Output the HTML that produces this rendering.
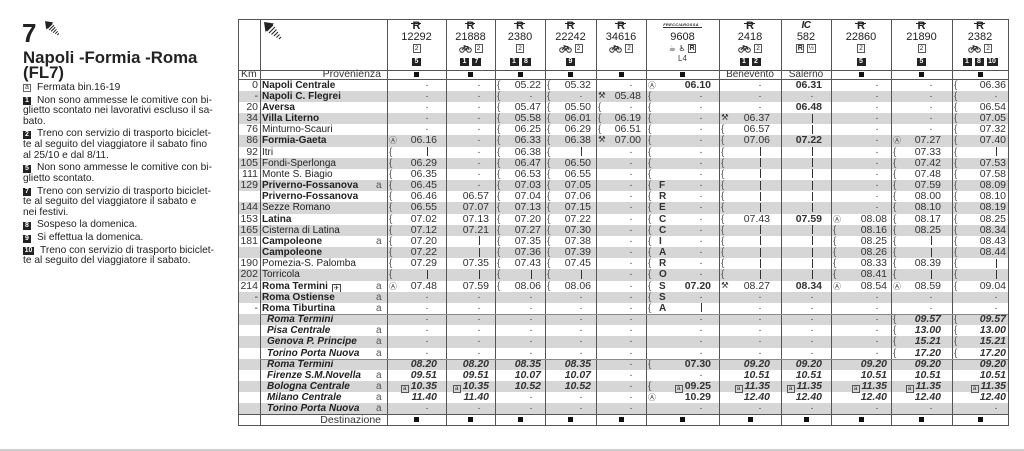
<!DOCTYPE html>
<html><head><meta charset="utf-8">
<style>
*{margin:0;padding:0}
body{width:1024px;height:451px;overflow:hidden;background:#fff;font-family:"Liberation Sans",Arial,sans-serif;color:#2b2b2b;position:relative}
.ab{position:absolute}
i{font-style:normal}
#t{position:absolute;left:238px;top:79.5px;width:770px}
.r{position:relative;height:11.18px;line-height:11.18px;font-size:10.5px;color:#333;white-space:nowrap}
.r:nth-child(even){background:#d6d6d6}
.r>span,.kr>span{position:absolute;top:0;box-sizing:border-box;height:100%}
.km{left:0;width:20px;text-align:right}
.st{left:24px;font-size:10px;color:#222}
.st.b{font-weight:bold}
.a{left:138px;font-size:10px;color:#555;font-style:normal;font-weight:normal}
.c1,.c2,.c3,.c4,.c5,.c6,.c7,.c8,.c9,.c10,.c11{text-align:right}
.c1{left:149px;width:59px;padding-right:9px}
.c2{left:208px;width:49px;padding-right:6px}
.c3{left:257px;width:50px;padding-right:4px}
.c4{left:307px;width:51px;padding-right:5px}
.c5{left:358px;width:50px;padding-right:5px}
.c6{left:408px;width:73px;padding-right:8px}
.c7{left:481px;width:62px;padding-right:11px}
.c8{left:543px;width:50px;padding-right:9px}
.c9{left:593px;width:60px;padding-right:4px}
.c10{left:653px;width:61px;padding-right:11px}
.c11{left:714px;width:56px;padding-right:2px}
.kr>span{text-align:center!important;padding:0!important}
.d{display:inline-block;width:20px;text-align:center;font-weight:normal;font-style:normal}
.v{display:inline-block;width:20px;height:9px;vertical-align:-1.5px;background:linear-gradient(#333,#333) no-repeat 50% 0/1px 100%}
.w{position:absolute;left:2px;top:0;font-size:10px;color:#555;font-weight:normal;font-style:normal}
.o{position:absolute;left:2px;top:0;font-family:"DejaVu Sans",sans-serif;font-size:8px;color:#444;font-weight:normal;font-style:normal}
.x{position:absolute;left:2px;top:0;font-family:"DejaVu Sans",sans-serif;font-size:8.5px;color:#333;font-weight:normal;font-style:normal}
.fl{position:absolute;left:13px;top:0;font-weight:bold;font-size:10px;color:#333;font-style:normal}
.it{font-style:italic;font-weight:bold}
.it .st{left:29px;font-weight:bold;font-style:italic}
.it .km{font-style:normal;font-weight:normal}
.it .c6{font-style:normal}
.bx{display:inline-block;width:8px;height:8px;border:1px solid #555;box-sizing:border-box;font-size:6.5px;line-height:6.5px;text-align:center;font-style:normal;font-weight:normal;margin-right:2px;vertical-align:-0.5px}
.pl{display:inline-block;width:9px;height:9px;border:1px solid #444;box-sizing:border-box;font-family:"DejaVu Sans",sans-serif;font-size:6.5px;line-height:7px;text-align:center;margin-left:4px;vertical-align:-1px;font-weight:normal}
.sq{display:inline-block;width:5px;height:5px;background:#111;vertical-align:middle}
.vl{position:absolute;top:19px;height:406.5px;width:1px;background:#555}
.hl{position:absolute;left:238px;width:771px;height:1px;background:#555}
.hc{position:absolute;top:19px;height:51px;text-align:center;color:#222}
.hc>div{position:absolute;left:0;right:0;white-space:nowrap}
.h1{top:2px;line-height:10px;font-size:10px}
.h2{top:13px;line-height:11px;font-size:11px}
.h3{top:25px;line-height:9px;font-size:9px}
.h4{top:38px;line-height:9px;font-size:9px}
.ri{position:relative;font-weight:bold;font-size:11px;display:inline-block;line-height:10px}
.ri::before{content:"";position:absolute;left:-2px;right:-1px;top:2px;height:1.3px;background:#222}
.k2{display:inline-block;border:1px solid #555;font-size:6.5px;line-height:7px;width:8px;height:9px;box-sizing:border-box;text-align:center;vertical-align:middle}
.fb{display:inline-block;width:9px;height:8px;background:#222;color:#fff;font-size:7px;font-weight:bold;line-height:8px;text-align:center;margin:0 1.5px;vertical-align:middle}
.bk{vertical-align:middle;margin-right:3px}
.nl{position:absolute;left:23px;height:10.6px;line-height:10.6px;font-size:10.2px;color:#222;white-space:nowrap}
.nl.f{padding-left:14px}
.nb{position:absolute;left:0;top:1.5px;width:8px;height:8px;background:#222;color:#fff;font-size:7px;font-weight:bold;line-height:8px;text-align:center}
.nb.wa{background:#fff;color:#333;border:1px solid #666;box-sizing:border-box;line-height:6px;font-weight:normal}
</style></head><body>

<!-- left panel -->
<div class="ab" style="left:22px;top:19.7px;font-size:26px;line-height:26px;font-weight:bold;color:#222">7</div>
<svg class="ab" style="left:45px;top:21px" width="18" height="15" viewBox="0 0 22 18"><polygon points="0,0 10,1.5 1.5,10" fill="#222"/><g stroke="#222" stroke-width="1.2"><line x1="3" y1="9" x2="9" y2="3"/><line x1="5" y1="11" x2="11" y2="5"/><line x1="7.5" y1="12.5" x2="12.5" y2="7.5"/><line x1="10" y1="14" x2="14" y2="10"/><line x1="12.5" y1="15.5" x2="15.5" y2="12.5"/><line x1="15" y1="17" x2="17" y2="15"/></g></svg>
<div class="ab" style="left:23px;top:49.2px;font-size:16.8px;line-height:17px;font-weight:bold;color:#222;white-space:nowrap">Napoli -Formia -Roma</div>
<div class="ab" style="left:23px;top:64.2px;font-size:16.8px;line-height:17px;font-weight:bold;color:#222">(FL7)</div>

<div class="nl f" style="top:82.8px"><i class="nb wa">a</i>Fermata bin.16-19</div>
<div class="nl f" style="top:95.5px"><i class="nb">1</i>Non sono ammesse le comitive con bi-</div>
<div class="nl" style="top:106.1px">glietto scontato nei lavorativi escluso il sa-</div>
<div class="nl" style="top:116.7px">bato.</div>
<div class="nl f" style="top:129.4px"><i class="nb">2</i>Treno con servizio di trasporto biciclet-</div>
<div class="nl" style="top:140px">te al seguito del viaggiatore il sabato fino</div>
<div class="nl" style="top:150.6px">al 25/10 e dal 8/11.</div>
<div class="nl f" style="top:163.3px"><i class="nb">5</i>Non sono ammesse le comitive con bi-</div>
<div class="nl" style="top:173.9px">glietto scontato.</div>
<div class="nl f" style="top:186.5px"><i class="nb">7</i>Treno con servizio di trasporto biciclet-</div>
<div class="nl" style="top:197.1px">te al seguito del viaggiatore il sabato e</div>
<div class="nl" style="top:207.7px">nei festivi.</div>
<div class="nl f" style="top:220.4px"><i class="nb">8</i>Sospeso la domenica.</div>
<div class="nl f" style="top:233px"><i class="nb">9</i>Si effettua la domenica.</div>
<div class="nl f" style="top:245.7px;padding-left:17px"><i class="nb" style="width:11px">10</i>Treno con servizio di trasporto biciclet-</div>
<div class="nl" style="top:256.3px">te al seguito del viaggiatore il sabato.</div>

<!-- header -->
<svg class="ab" style="left:264px;top:22px" width="22" height="18" viewBox="0 0 22 18"><polygon points="0,0 10,1.5 1.5,10" fill="#222"/><g stroke="#222" stroke-width="1.1"><line x1="3" y1="9" x2="9" y2="3"/><line x1="5" y1="11" x2="11" y2="5"/><line x1="7.5" y1="12.5" x2="12.5" y2="7.5"/><line x1="10" y1="14" x2="14" y2="10"/><line x1="12.5" y1="15.5" x2="15.5" y2="12.5"/><line x1="15" y1="17" x2="17" y2="15"/></g></svg>

<div class="hc" style="left:387px;width:59px"><div class="h1"><span class="ri">R</span></div><div class="h2">12292</div><div class="h3"><span class="k2">2</span></div><div class="h4"><span class="fb">5</span></div></div>
<div class="hc" style="left:446px;width:49px"><div class="h1"><span class="ri">R</span></div><div class="h2">21888</div><div class="h3"><svg class="bk" width="13" height="8" viewBox="0 0 13 8"><circle cx="3" cy="5" r="2.3" fill="none" stroke="#333"/><circle cx="10" cy="5" r="2.3" fill="none" stroke="#333"/><path d="M3 5L5.5 1.5H9L10 5M5.5 1.5L6.5 5L9 1.5M4.5 .7H6.7" fill="none" stroke="#333"/></svg><span class="k2">2</span></div><div class="h4"><span class="fb">1</span><span class="fb">7</span></div></div>
<div class="hc" style="left:495px;width:50px"><div class="h1"><span class="ri">R</span></div><div class="h2">2380</div><div class="h3"><span class="k2">2</span></div><div class="h4"><span class="fb">1</span><span class="fb">8</span></div></div>
<div class="hc" style="left:545px;width:51px"><div class="h1"><span class="ri">R</span></div><div class="h2">22242</div><div class="h3"><svg class="bk" width="13" height="8" viewBox="0 0 13 8"><circle cx="3" cy="5" r="2.3" fill="none" stroke="#333"/><circle cx="10" cy="5" r="2.3" fill="none" stroke="#333"/><path d="M3 5L5.5 1.5H9L10 5M5.5 1.5L6.5 5L9 1.5M4.5 .7H6.7" fill="none" stroke="#333"/></svg><span class="k2">2</span></div><div class="h4"><span class="fb">9</span></div></div>
<div class="hc" style="left:596px;width:50px"><div class="h1"><span class="ri">R</span></div><div class="h2">34616</div><div class="h3"><svg class="bk" width="13" height="8" viewBox="0 0 13 8"><circle cx="3" cy="5" r="2.3" fill="none" stroke="#333"/><circle cx="10" cy="5" r="2.3" fill="none" stroke="#333"/><path d="M3 5L5.5 1.5H9L10 5M5.5 1.5L6.5 5L9 1.5M4.5 .7H6.7" fill="none" stroke="#333"/></svg><span class="k2">2</span></div></div>
<div class="hc" style="left:646px;width:73px"><div class="h1" style="top:0"><span style="display:inline-block;font-size:4px;line-height:5px;font-style:italic;font-weight:bold;border-bottom:1.3px solid #333;padding:0 3px 0 0;letter-spacing:.3px">FRECCIAROSSA</span></div><div class="h2">9608</div><div class="h3"><span style="font-family:'DejaVu Sans',sans-serif;font-size:8px">☕ ♿</span> <span class="k2" style="font-weight:bold;font-size:7px">R</span></div><div class="h4" style="top:35px;font-size:8px;color:#444">L4</div></div>
<div class="hc" style="left:719px;width:62px"><div class="h1"><span class="ri">R</span></div><div class="h2">2418</div><div class="h3"><svg class="bk" width="13" height="8" viewBox="0 0 13 8"><circle cx="3" cy="5" r="2.3" fill="none" stroke="#333"/><circle cx="10" cy="5" r="2.3" fill="none" stroke="#333"/><path d="M3 5L5.5 1.5H9L10 5M5.5 1.5L6.5 5L9 1.5M4.5 .7H6.7" fill="none" stroke="#333"/></svg><span class="k2">2</span></div><div class="h4"><span class="fb">1</span><span class="fb">2</span></div></div>
<div class="hc" style="left:781px;width:50px"><div class="h1"><b style="font-style:italic;font-size:10px;letter-spacing:-.5px">IC</b></div><div class="h2">582</div><div class="h3"><span class="k2" style="font-weight:bold;font-size:7px">R</span> <span class="k2" style="width:9px">½</span></div></div>
<div class="hc" style="left:831px;width:60px"><div class="h1"><span class="ri">R</span></div><div class="h2">22860</div><div class="h3"><span class="k2">2</span></div><div class="h4"><span class="fb">5</span></div></div>
<div class="hc" style="left:891px;width:61px"><div class="h1"><span class="ri">R</span></div><div class="h2">21890</div><div class="h3"><span class="k2">2</span></div><div class="h4"><span class="fb">5</span></div></div>
<div class="hc" style="left:952px;width:56px"><div class="h1"><span class="ri">R</span></div><div class="h2">2382</div><div class="h3"><svg class="bk" width="13" height="8" viewBox="0 0 13 8"><circle cx="3" cy="5" r="2.3" fill="none" stroke="#333"/><circle cx="10" cy="5" r="2.3" fill="none" stroke="#333"/><path d="M3 5L5.5 1.5H9L10 5M5.5 1.5L6.5 5L9 1.5M4.5 .7H6.7" fill="none" stroke="#333"/></svg><span class="k2">2</span></div><div class="h4"><span class="fb">1</span><span class="fb">8</span><span class="fb" style="width:11px">10</span></div></div>

<!-- Km row -->
<div class="ab kr" style="left:238px;top:70px;width:770px;height:9.5px;line-height:9.5px;font-size:10.5px;color:#333">
<span style="left:3px">Km</span><span style="left:22px;width:121px;text-align:right!important">Provenienza</span>
<span class="c1"><i class="sq"></i></span><span class="c2"><i class="sq"></i></span><span class="c3"><i class="sq"></i></span><span class="c4"><i class="sq"></i></span><span class="c5"><i class="sq"></i></span><span class="c6"><i class="sq"></i></span><span class="c7" style="font-size:10px">Benevento</span><span class="c8" style="font-size:10px">Salerno</span><span class="c9"><i class="sq"></i></span><span class="c10"><i class="sq"></i></span><span class="c11"><i class="sq"></i></span>
</div>

<!-- rows -->
<div id="t">
<div class="r"><span class="km">0</span><span class="st b">Napoli Centrale</span><span class="c1"><i class="d">·</i></span><span class="c2"><i class="d">·</i></span><span class="c3"><i class="w">{</i>05.22</span><span class="c4"><i class="w">{</i>05.32</span><span class="c5"><i class="d">·</i></span><span class="c6"><i class="o">Ⓐ</i><b>06.10</b></span><span class="c7"><i class="d">·</i></span><span class="c8"><b>06.31</b></span><span class="c9"><i class="d">·</i></span><span class="c10"><i class="d">·</i></span><span class="c11"><i class="w">{</i>06.36</span></div>
<div class="r"><span class="km">-</span><span class="st b">Napoli C. Flegrei</span><span class="c1"><i class="d">·</i></span><span class="c2"><i class="d">·</i></span><span class="c3"><i class="w">{</i><i class="d">·</i></span><span class="c4"><i class="w">{</i><i class="d">·</i></span><span class="c5"><i class="x">⚒</i>05.48</span><span class="c6"><i class="w">{</i><i class="d">·</i></span><span class="c7"><i class="d">·</i></span><span class="c8"><i class="d">·</i></span><span class="c9"><i class="d">·</i></span><span class="c10"><i class="d">·</i></span><span class="c11"><i class="w">{</i><i class="d">·</i></span></div>
<div class="r"><span class="km">20</span><span class="st b">Aversa</span><span class="c1"><i class="d">·</i></span><span class="c2"><i class="d">·</i></span><span class="c3"><i class="w">{</i>05.47</span><span class="c4"><i class="w">{</i>05.50</span><span class="c5"><i class="w">{</i><i class="d">·</i></span><span class="c6"><i class="w">{</i><i class="d">·</i></span><span class="c7"><i class="d">·</i></span><span class="c8"><b>06.48</b></span><span class="c9"><i class="d">·</i></span><span class="c10"><i class="d">·</i></span><span class="c11"><i class="w">{</i>06.54</span></div>
<div class="r"><span class="km">34</span><span class="st b">Villa Literno</span><span class="c1"><i class="d">·</i></span><span class="c2"><i class="d">·</i></span><span class="c3"><i class="w">{</i>05.58</span><span class="c4"><i class="w">{</i>06.01</span><span class="c5"><i class="w">{</i>06.19</span><span class="c6"><i class="w">{</i><i class="d">·</i></span><span class="c7"><i class="x">⚒</i>06.37</span><span class="c8"><i class="v"></i></span><span class="c9"><i class="d">·</i></span><span class="c10"><i class="d">·</i></span><span class="c11"><i class="w">{</i>07.05</span></div>
<div class="r"><span class="km">76</span><span class="st">Minturno-Scauri</span><span class="c1"><i class="d">·</i></span><span class="c2"><i class="d">·</i></span><span class="c3"><i class="w">{</i>06.25</span><span class="c4"><i class="w">{</i>06.29</span><span class="c5"><i class="w">{</i>06.51</span><span class="c6"><i class="w">{</i><i class="d">·</i></span><span class="c7"><i class="w">{</i>06.57</span><span class="c8"><i class="v"></i></span><span class="c9"><i class="d">·</i></span><span class="c10"><i class="d">·</i></span><span class="c11"><i class="w">{</i>07.32</span></div>
<div class="r"><span class="km">86</span><span class="st b">Formia-Gaeta</span><span class="c1"><i class="o">Ⓐ</i>06.16</span><span class="c2"><i class="d">·</i></span><span class="c3"><i class="w">{</i>06.33</span><span class="c4"><i class="w">{</i>06.38</span><span class="c5"><i class="x">⚒</i>07.00</span><span class="c6"><i class="w">{</i><i class="d">·</i></span><span class="c7"><i class="w">{</i>07.06</span><span class="c8"><b>07.22</b></span><span class="c9"><i class="d">·</i></span><span class="c10"><i class="o">Ⓐ</i>07.27</span><span class="c11"><i class="w">{</i>07.40</span></div>
<div class="r"><span class="km">92</span><span class="st">Itri</span><span class="c1"><i class="w">{</i><i class="v"></i></span><span class="c2"><i class="d">·</i></span><span class="c3"><i class="w">{</i>06.38</span><span class="c4"><i class="w">{</i><i class="v"></i></span><span class="c5"><i class="d">·</i></span><span class="c6"><i class="w">{</i><i class="d">·</i></span><span class="c7"><i class="w">{</i><i class="v"></i></span><span class="c8"><i class="v"></i></span><span class="c9"><i class="d">·</i></span><span class="c10"><i class="w">{</i>07.33</span><span class="c11"><i class="w">{</i><i class="v"></i></span></div>
<div class="r"><span class="km">105</span><span class="st">Fondi-Sperlonga</span><span class="c1"><i class="w">{</i>06.29</span><span class="c2"><i class="d">·</i></span><span class="c3"><i class="w">{</i>06.47</span><span class="c4"><i class="w">{</i>06.50</span><span class="c5"><i class="d">·</i></span><span class="c6"><i class="w">{</i><i class="d">·</i></span><span class="c7"><i class="w">{</i><i class="v"></i></span><span class="c8"><i class="v"></i></span><span class="c9"><i class="d">·</i></span><span class="c10"><i class="w">{</i>07.42</span><span class="c11"><i class="w">{</i>07.53</span></div>
<div class="r"><span class="km">111</span><span class="st">Monte S. Biagio</span><span class="c1"><i class="w">{</i>06.35</span><span class="c2"><i class="d">·</i></span><span class="c3"><i class="w">{</i>06.53</span><span class="c4"><i class="w">{</i>06.55</span><span class="c5"><i class="d">·</i></span><span class="c6"><i class="w">{</i><i class="d">·</i></span><span class="c7"><i class="w">{</i><i class="v"></i></span><span class="c8"><i class="v"></i></span><span class="c9"><i class="d">·</i></span><span class="c10"><i class="w">{</i>07.48</span><span class="c11"><i class="w">{</i>07.58</span></div>
<div class="r"><span class="km">129</span><span class="st b">Priverno-Fossanova</span><span class="a">a</span><span class="c1"><i class="w">{</i>06.45</span><span class="c2"><i class="d">·</i></span><span class="c3"><i class="w">{</i>07.03</span><span class="c4"><i class="w">{</i>07.05</span><span class="c5"><i class="d">·</i></span><span class="c6"><i class="w">{</i><i class="fl">F</i><i class="d">·</i></span><span class="c7"><i class="w">{</i><i class="v"></i></span><span class="c8"><i class="v"></i></span><span class="c9"><i class="d">·</i></span><span class="c10"><i class="w">{</i>07.59</span><span class="c11"><i class="w">{</i>08.09</span></div>
<div class="r"><span class="km"></span><span class="st b">Priverno-Fossanova</span><span class="c1"><i class="w">{</i>06.46</span><span class="c2">06.57</span><span class="c3"><i class="w">{</i>07.04</span><span class="c4"><i class="w">{</i>07.06</span><span class="c5"><i class="d">·</i></span><span class="c6"><i class="w">{</i><i class="fl">R</i><i class="d">·</i></span><span class="c7"><i class="w">{</i><i class="v"></i></span><span class="c8"><i class="v"></i></span><span class="c9"><i class="d">·</i></span><span class="c10"><i class="w">{</i>08.00</span><span class="c11"><i class="w">{</i>08.10</span></div>
<div class="r"><span class="km">144</span><span class="st">Sezze Romano</span><span class="c1"><i class="w">{</i>06.55</span><span class="c2">07.07</span><span class="c3"><i class="w">{</i>07.13</span><span class="c4"><i class="w">{</i>07.15</span><span class="c5"><i class="d">·</i></span><span class="c6"><i class="w">{</i><i class="fl">E</i><i class="d">·</i></span><span class="c7"><i class="w">{</i><i class="v"></i></span><span class="c8"><i class="v"></i></span><span class="c9"><i class="d">·</i></span><span class="c10"><i class="w">{</i>08.10</span><span class="c11"><i class="w">{</i>08.19</span></div>
<div class="r"><span class="km">153</span><span class="st b">Latina</span><span class="c1"><i class="w">{</i>07.02</span><span class="c2">07.13</span><span class="c3"><i class="w">{</i>07.20</span><span class="c4"><i class="w">{</i>07.22</span><span class="c5"><i class="d">·</i></span><span class="c6"><i class="w">{</i><i class="fl">C</i><i class="d">·</i></span><span class="c7"><i class="w">{</i>07.43</span><span class="c8"><b>07.59</b></span><span class="c9"><i class="o">Ⓐ</i>08.08</span><span class="c10"><i class="w">{</i>08.17</span><span class="c11"><i class="w">{</i>08.25</span></div>
<div class="r"><span class="km">165</span><span class="st">Cisterna di Latina</span><span class="c1"><i class="w">{</i>07.12</span><span class="c2">07.21</span><span class="c3"><i class="w">{</i>07.27</span><span class="c4"><i class="w">{</i>07.30</span><span class="c5"><i class="d">·</i></span><span class="c6"><i class="w">{</i><i class="fl">C</i><i class="d">·</i></span><span class="c7"><i class="w">{</i><i class="v"></i></span><span class="c8"><i class="v"></i></span><span class="c9"><i class="w">{</i>08.16</span><span class="c10"><i class="w">{</i>08.25</span><span class="c11"><i class="w">{</i>08.34</span></div>
<div class="r"><span class="km">181</span><span class="st b">Campoleone</span><span class="a">a</span><span class="c1"><i class="w">{</i>07.20</span><span class="c2"><i class="v"></i></span><span class="c3"><i class="w">{</i>07.35</span><span class="c4"><i class="w">{</i>07.38</span><span class="c5"><i class="d">·</i></span><span class="c6"><i class="w">{</i><i class="fl">I</i><i class="d">·</i></span><span class="c7"><i class="w">{</i><i class="v"></i></span><span class="c8"><i class="v"></i></span><span class="c9"><i class="w">{</i>08.25</span><span class="c10"><i class="w">{</i><i class="v"></i></span><span class="c11"><i class="w">{</i>08.43</span></div>
<div class="r"><span class="km"></span><span class="st b">Campoleone</span><span class="c1"><i class="w">{</i>07.22</span><span class="c2"><i class="v"></i></span><span class="c3"><i class="w">{</i>07.36</span><span class="c4"><i class="w">{</i>07.39</span><span class="c5"><i class="d">·</i></span><span class="c6"><i class="w">{</i><i class="fl">A</i><i class="d">·</i></span><span class="c7"><i class="w">{</i><i class="v"></i></span><span class="c8"><i class="v"></i></span><span class="c9"><i class="w">{</i>08.26</span><span class="c10"><i class="w">{</i><i class="v"></i></span><span class="c11"><i class="w">{</i>08.44</span></div>
<div class="r"><span class="km">190</span><span class="st">Pomezia-S. Palomba</span><span class="c1"><i class="w">{</i>07.29</span><span class="c2">07.35</span><span class="c3"><i class="w">{</i>07.43</span><span class="c4"><i class="w">{</i>07.45</span><span class="c5"><i class="d">·</i></span><span class="c6"><i class="w">{</i><i class="fl">R</i><i class="d">·</i></span><span class="c7"><i class="w">{</i><i class="v"></i></span><span class="c8"><i class="v"></i></span><span class="c9"><i class="w">{</i>08.33</span><span class="c10"><i class="w">{</i>08.39</span><span class="c11"><i class="w">{</i><i class="v"></i></span></div>
<div class="r"><span class="km">202</span><span class="st">Torricola</span><span class="c1"><i class="w">{</i><i class="v"></i></span><span class="c2"><i class="v"></i></span><span class="c3"><i class="w">{</i><i class="v"></i></span><span class="c4"><i class="w">{</i><i class="v"></i></span><span class="c5"><i class="d">·</i></span><span class="c6"><i class="w">{</i><i class="fl">O</i><i class="d">·</i></span><span class="c7"><i class="w">{</i><i class="v"></i></span><span class="c8"><i class="v"></i></span><span class="c9"><i class="w">{</i>08.41</span><span class="c10"><i class="w">{</i><i class="v"></i></span><span class="c11"><i class="w">{</i><i class="v"></i></span></div>
<div class="r"><span class="km">214</span><span class="st b">Roma Termini<i class="pl">✈</i></span><span class="a">a</span><span class="c1"><i class="o">Ⓐ</i>07.48</span><span class="c2">07.59</span><span class="c3"><i class="w">{</i>08.06</span><span class="c4"><i class="w">{</i>08.06</span><span class="c5"><i class="d">·</i></span><span class="c6"><i class="w">{</i><i class="fl">S</i><b>07.20</b></span><span class="c7"><i class="x">⚒</i>08.27</span><span class="c8"><b>08.34</b></span><span class="c9"><i class="o">Ⓐ</i>08.54</span><span class="c10"><i class="o">Ⓐ</i>08.59</span><span class="c11"><i class="w">{</i>09.04</span></div>
<div class="r"><span class="km">-</span><span class="st b">Roma Ostiense</span><span class="a">a</span><span class="c1"><i class="d">·</i></span><span class="c2"><i class="d">·</i></span><span class="c3"><i class="d">·</i></span><span class="c4"><i class="d">·</i></span><span class="c5"><i class="d">·</i></span><span class="c6"><i class="w">{</i><i class="fl">S</i><i class="d">·</i></span><span class="c7"><i class="d">·</i></span><span class="c8"><i class="d">·</i></span><span class="c9"><i class="d">·</i></span><span class="c10"><i class="d">·</i></span><span class="c11"><i class="d">·</i></span></div>
<div class="r"><span class="km">-</span><span class="st b">Roma Tiburtina</span><span class="a">a</span><span class="c1"><i class="d">·</i></span><span class="c2"><i class="d">·</i></span><span class="c3"><i class="d">·</i></span><span class="c4"><i class="d">·</i></span><span class="c5"><i class="d">·</i></span><span class="c6"><i class="w">{</i><i class="fl">A</i><i class="v"></i></span><span class="c7"><i class="d">·</i></span><span class="c8"><i class="d">·</i></span><span class="c9"><i class="d">·</i></span><span class="c10"><i class="d">·</i></span><span class="c11"><i class="d">·</i></span></div>
<div class="r it"><span class="st">Roma Termini</span><span class="c1"><i class="d">·</i></span><span class="c2"><i class="d">·</i></span><span class="c3"><i class="d">·</i></span><span class="c4"><i class="d">·</i></span><span class="c5"><i class="d">·</i></span><span class="c6"><i class="d">·</i></span><span class="c7"><i class="d">·</i></span><span class="c8"><i class="d">·</i></span><span class="c9"><i class="d">·</i></span><span class="c10"><i class="w">{</i>09.57</span><span class="c11"><i class="w">{</i>09.57</span></div>
<div class="r it"><span class="st">Pisa Centrale</span><span class="a">a</span><span class="c1"><i class="d">·</i></span><span class="c2"><i class="d">·</i></span><span class="c3"><i class="d">·</i></span><span class="c4"><i class="d">·</i></span><span class="c5"><i class="d">·</i></span><span class="c6"><i class="d">·</i></span><span class="c7"><i class="d">·</i></span><span class="c8"><i class="d">·</i></span><span class="c9"><i class="d">·</i></span><span class="c10"><i class="w">{</i>13.00</span><span class="c11"><i class="w">{</i>13.00</span></div>
<div class="r it"><span class="st">Genova P. Principe</span><span class="a">a</span><span class="c1"><i class="d">·</i></span><span class="c2"><i class="d">·</i></span><span class="c3"><i class="d">·</i></span><span class="c4"><i class="d">·</i></span><span class="c5"><i class="d">·</i></span><span class="c6"><i class="d">·</i></span><span class="c7"><i class="d">·</i></span><span class="c8"><i class="d">·</i></span><span class="c9"><i class="d">·</i></span><span class="c10"><i class="w">{</i>15.21</span><span class="c11"><i class="w">{</i>15.21</span></div>
<div class="r it"><span class="st">Torino Porta Nuova</span><span class="a">a</span><span class="c1"><i class="d">·</i></span><span class="c2"><i class="d">·</i></span><span class="c3"><i class="d">·</i></span><span class="c4"><i class="d">·</i></span><span class="c5"><i class="d">·</i></span><span class="c6"><i class="d">·</i></span><span class="c7"><i class="d">·</i></span><span class="c8"><i class="d">·</i></span><span class="c9"><i class="d">·</i></span><span class="c10"><i class="w">{</i>17.20</span><span class="c11"><i class="w">{</i>17.20</span></div>
<div class="r it"><span class="st">Roma Termini</span><span class="c1">08.20</span><span class="c2">08.20</span><span class="c3">08.35</span><span class="c4">08.35</span><span class="c5"><i class="d">·</i></span><span class="c6"><i class="w">{</i>07.30</span><span class="c7">09.20</span><span class="c8">09.20</span><span class="c9">09.20</span><span class="c10">09.20</span><span class="c11">09.20</span></div>
<div class="r it"><span class="st">Firenze S.M.Novella</span><span class="a">a</span><span class="c1">09.51</span><span class="c2">09.51</span><span class="c3">10.07</span><span class="c4">10.07</span><span class="c5"><i class="d">·</i></span><span class="c6"><i class="d">·</i></span><span class="c7">10.51</span><span class="c8">10.51</span><span class="c9">10.51</span><span class="c10">10.51</span><span class="c11">10.51</span></div>
<div class="r it"><span class="st">Bologna Centrale</span><span class="a">a</span><span class="c1"><i class="bx">a</i>10.35</span><span class="c2"><i class="bx">a</i>10.35</span><span class="c3">10.52</span><span class="c4">10.52</span><span class="c5"><i class="d">·</i></span><span class="c6"><i class="w">{</i><i class="bx">a</i>09.25</span><span class="c7"><i class="bx">a</i>11.35</span><span class="c8"><i class="bx">a</i>11.35</span><span class="c9"><i class="bx">a</i>11.35</span><span class="c10"><i class="bx">a</i>11.35</span><span class="c11"><i class="bx">a</i>11.35</span></div>
<div class="r it"><span class="st">Milano Centrale</span><span class="a">a</span><span class="c1">11.40</span><span class="c2">11.40</span><span class="c3"><i class="d">·</i></span><span class="c4"><i class="d">·</i></span><span class="c5"><i class="d">·</i></span><span class="c6"><i class="o">Ⓐ</i>10.29</span><span class="c7">12.40</span><span class="c8">12.40</span><span class="c9">12.40</span><span class="c10">12.40</span><span class="c11">12.40</span></div>
<div class="r it"><span class="st">Torino Porta Nuova</span><span class="a">a</span><span class="c1"><i class="d">·</i></span><span class="c2"><i class="d">·</i></span><span class="c3"><i class="d">·</i></span><span class="c4"><i class="d">·</i></span><span class="c5"><i class="d">·</i></span><span class="c6"><i class="d">·</i></span><span class="c7"><i class="d">·</i></span><span class="c8"><i class="d">·</i></span><span class="c9"><i class="d">·</i></span><span class="c10"><i class="d">·</i></span><span class="c11"><i class="d">·</i></span></div>
</div>

<!-- Destinazione row -->
<div class="ab kr" style="left:238px;top:414.5px;width:770px;height:11px;line-height:11px;font-size:10.5px;color:#333">
<span style="left:22px;width:121px;text-align:right!important">Destinazione</span>
<span class="c1"><i class="sq"></i></span><span class="c2"><i class="sq"></i></span><span class="c3"><i class="sq"></i></span><span class="c4"><i class="sq"></i></span><span class="c5"><i class="sq"></i></span><span class="c6"><i class="sq"></i></span><span class="c7"><i class="sq"></i></span><span class="c8"><i class="sq"></i></span><span class="c9"><i class="sq"></i></span><span class="c10"><i class="sq"></i></span><span class="c11"><i class="sq"></i></span>
</div>

<!-- lines -->
<div class="vl" style="left:238px"></div>
<div class="vl" style="left:260px"></div>
<div class="vl" style="left:387px"></div>
<div class="vl" style="left:446px"></div>
<div class="vl" style="left:495px"></div>
<div class="vl" style="left:545px"></div>
<div class="vl" style="left:596px"></div>
<div class="vl" style="left:646px"></div>
<div class="vl" style="left:719px"></div>
<div class="vl" style="left:781px"></div>
<div class="vl" style="left:831px"></div>
<div class="vl" style="left:891px"></div>
<div class="vl" style="left:952px"></div>
<div class="vl" style="left:1008px"></div>
<div class="hl" style="top:19px"></div>
<div class="hl" style="top:70px"></div>
<div class="hl" style="top:79px"></div>
<div class="hl" style="top:414px"></div>
<div class="hl" style="top:425px"></div>
<div class="ab" style="left:260px;top:313.8px;width:748px;height:1.5px;background:#8a8a8a"></div>
<div class="ab" style="left:260px;top:358.5px;width:748px;height:1.5px;background:#8a8a8a"></div>
<div class="ab" style="left:0;top:448.5px;width:1024px;height:2px;background:#cfcfcf"></div>
</body></html>
